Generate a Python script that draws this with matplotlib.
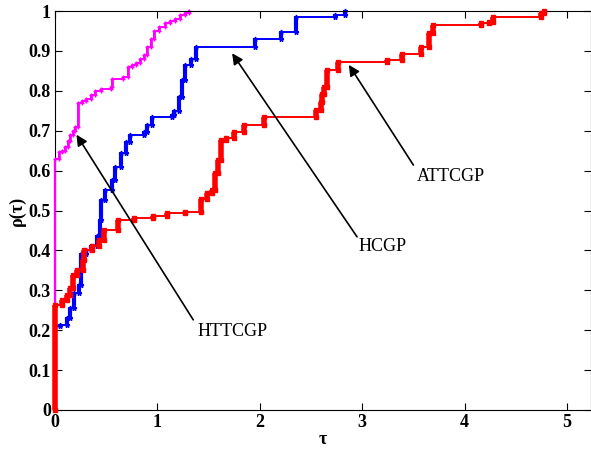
import numpy as np
import matplotlib
matplotlib.use("Agg")
import matplotlib.pyplot as plt

# performance profile data: rho jumps to the given value at each tau
tau_httcgp = [0, 0.04, 0.07, 0.10, 0.13, 0.15, 0.18, 0.20, 0.22, 0.26, 0.30, 0.35, 0.39,
              0.45, 0.55, 0.56, 0.66, 0.71, 0.75, 0.79, 0.83, 0.87, 0.90, 0.94, 0.97,
              1.02, 1.07, 1.12, 1.17, 1.22, 1.27, 1.31]
rho_httcgp = [0.63, 0.647, 0.65, 0.66, 0.675, 0.69, 0.70, 0.71, 0.77, 0.775, 0.78, 0.79, 0.80,
              0.805, 0.81, 0.83, 0.835, 0.86, 0.865, 0.87, 0.88, 0.89, 0.91, 0.93, 0.95,
              0.96, 0.97, 0.975, 0.98, 0.99, 0.995, 1.0]

tau_hcgp = [0, 0.05, 0.12, 0.15, 0.19, 0.23, 0.25, 0.30, 0.35, 0.41, 0.44, 0.45, 0.49,
            0.56, 0.59, 0.64, 0.69, 0.73, 0.87, 0.90, 0.95, 1.14, 1.16, 1.21, 1.24, 1.27,
            1.33, 1.38, 1.95, 2.21, 2.35, 2.73, 2.83]
rho_hcgp = [0.21, 0.213, 0.23, 0.255, 0.293, 0.313, 0.39, 0.40, 0.41, 0.435, 0.476, 0.526, 0.551,
            0.576, 0.61, 0.643, 0.672, 0.689, 0.697, 0.714, 0.735, 0.739, 0.75, 0.785, 0.827, 0.865,
            0.88, 0.91, 0.93, 0.948, 0.984, 0.99, 1.0]

tau_attcgp = [0, 0.07, 0.12, 0.15, 0.18, 0.21, 0.27, 0.28, 0.36, 0.43, 0.48,
              0.62, 0.77, 0.96, 1.09, 1.27, 1.43, 1.48, 1.53, 1.56, 1.59, 1.62, 1.67, 1.75,
              1.85, 2.04, 2.55, 2.60, 2.61, 2.63, 2.66, 2.76, 3.24, 3.39, 3.57, 3.65, 3.69,
              4.16, 4.24, 4.28, 4.75, 4.78]
rho_attcgp = [0.263, 0.276, 0.288, 0.305, 0.338, 0.35, 0.376, 0.40,
              0.41, 0.426, 0.451, 0.476, 0.48, 0.486, 0.493, 0.497, 0.53, 0.543, 0.551, 0.593,
              0.627, 0.677, 0.681, 0.697, 0.714, 0.735, 0.752, 0.773, 0.793, 0.81, 0.852, 0.873,
              0.877, 0.893, 0.91, 0.944, 0.965, 0.969, 0.973, 0.986, 0.994, 1.0]


def stairs(tau, rho):
    # corner points of a staircase starting at rho = 0
    t = np.repeat(tau, 2)
    r = np.repeat(rho, 2)
    r = np.concatenate([[0.0], r[:-1]])
    return t, r


def draw_profile(ax, tau, rho, color, marker, ms, vlw, z, first_lw):
    t, r = stairs(tau, rho)
    ax.plot(t, r, color=color, lw=1.4, marker=marker, ms=ms, mew=1,
            zorder=z, clip_on=False)
    # the jumps are piled-up markers, so draw them heavier
    prev = np.concatenate([[0.0], rho[:-1]])
    lws = [first_lw] + [vlw] * (len(tau) - 1)
    ax.vlines(tau, prev, rho, color=color, lw=lws, zorder=z, clip_on=False)


plt.rcParams['font.family'] = ['Liberation Serif', 'DejaVu Serif']

fig = plt.figure(figsize=(5.91, 4.53), dpi=100)
ax = fig.add_axes([55 / 591, 43 / 453, 535.5 / 591, 399 / 453])

draw_profile(ax, tau_attcgp, rho_attcgp, '#ff0000', 's', 3.5, 4.0, 3, 4.0)
draw_profile(ax, tau_hcgp, rho_hcgp, '#0000ff', '*', 3.5, 3.0, 2, 1.4)
draw_profile(ax, tau_httcgp, rho_httcgp, '#ff00ff', '+', 3, 2.0, 1, 1.6)

ax.set_xlim(0, 5.23)
ax.set_ylim(0, 1)
ax.set_xticks(range(6))
ax.set_yticks(np.arange(0, 1.01, 0.1))
ax.set_yticklabels(['0', '0.1', '0.2', '0.3', '0.4', '0.5', '0.6', '0.7', '0.8', '0.9', '1'])
ax.tick_params(direction='in', top=True, right=True, length=5, width=0.8,
               labelsize=13, pad=3)
for lab in ax.get_xticklabels() + ax.get_yticklabels():
    lab.set_fontweight('bold')
for s in ax.spines.values():
    s.set_linewidth(0.8)
ax.spines['left'].set_zorder(0.5)

ax.set_xlabel('τ', fontsize=13, fontweight='bold', labelpad=0)
ax.set_ylabel('ρ(τ)', fontsize=13, fontweight='bold', labelpad=2)

arrow = dict(arrowstyle='-|>', color='k', lw=1.2, mutation_scale=16,
             shrinkA=0, shrinkB=0)
ax.annotate('', xy=(0.21, 0.69), xytext=(1.35, 0.226), arrowprops=arrow)
ax.text(1.73, 0.196, 'HTTCGP', fontsize=13, ha='center', va='center')
ax.annotate('', xy=(1.73, 0.894), xytext=(2.95, 0.434), arrowprops=arrow)
ax.text(3.2, 0.409, 'HCGP', fontsize=13, ha='center', va='center')
ax.annotate('', xy=(2.87, 0.865), xytext=(3.50, 0.614), arrowprops=arrow)
ax.text(3.87, 0.585, 'ATTCGP', fontsize=13, ha='center', va='center')

fig.savefig('out.png', dpi=100)
